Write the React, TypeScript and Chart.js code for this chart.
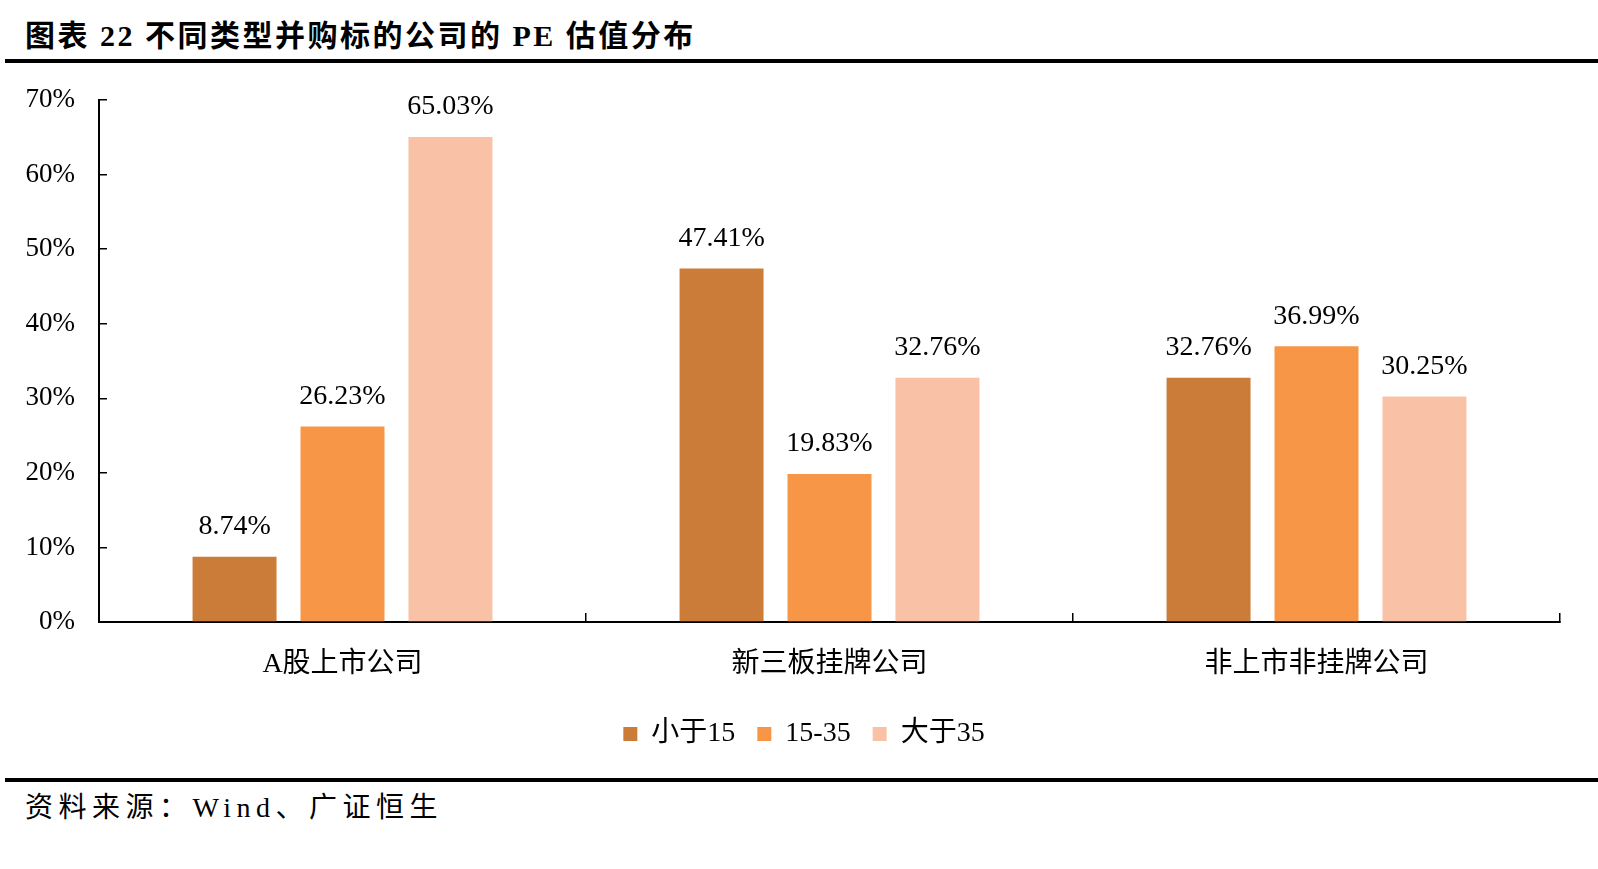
import React, { useEffect, useRef } from 'react';
import { Chart, registerables } from 'chart.js';

Chart.register(...registerables);

const categories = ['A股上市公司', '新三板挂牌公司', '非上市非挂牌公司'];
const seriesNames = ['小于15', '15-35', '大于35'];
const seriesLessThan15 = [8.74, 47.41, 32.76];
const series15to35 = [26.23, 19.83, 36.99];
const seriesMoreThan35 = [65.03, 32.76, 30.25];
const seriesColors = ['#CC7C39', '#F79646', '#F9C1A5'];
const yMin = 0;
const yMax = 70;
const yStep = 10;

const FONT = '"Liberation Serif", "Noto Sans CJK SC", serif';

const valueLabelPlugin = {
  id: 'valueLabels',
  afterDatasetsDraw(chart: any) {
    const ctx = chart.ctx;
    ctx.save();
    ctx.font = `28px ${FONT}`;
    ctx.fillStyle = '#000';
    ctx.textAlign = 'center';
    ctx.textBaseline = 'middle';
    chart.data.datasets.forEach((ds: any, di: number) => {
      const meta = chart.getDatasetMeta(di);
      meta.data.forEach((bar: any, i: number) => {
        const v = ds.data[i];
        ctx.fillText(v.toFixed(2) + '%', bar.x, bar.y - 30);
      });
    });
    ctx.restore();
  },
};

const legendShiftPlugin = {
  id: 'legendShift',
  afterLayout(chart: any) {
    if (chart.legend) {
      chart.legend.left += 24;
      chart.legend.right += 24;
    }
  },
};

export default function App() {
  const canvasRef = useRef<HTMLCanvasElement | null>(null);

  useEffect(() => {
    if (!canvasRef.current) return;
    const datasets = [seriesLessThan15, series15to35, seriesMoreThan35].map((d, i) => ({
      label: seriesNames[i],
      data: d,
      backgroundColor: seriesColors[i],
      borderWidth: 0,
      categoryPercentage: 0.665,
      barPercentage: 0.778,
    }));
    const chart = new Chart(canvasRef.current, {
      type: 'bar',
      data: { labels: categories, datasets },
      plugins: [valueLabelPlugin, legendShiftPlugin],
      options: {
        animation: false,
        responsive: false,
        maintainAspectRatio: false,
        layout: { padding: { top: 30, left: 0, right: 38, bottom: 2 } },
        plugins: {
          tooltip: { enabled: false },
          legend: {
            position: 'bottom',
            labels: {
              color: '#000',
              font: { family: FONT, size: 28 },
              boxWidth: 14,
              boxHeight: 14,
              padding: 22,
            },
          },
        },
        scales: {
          x: {
            afterFit: (scale: any) => {
              scale.height = 76;
              scale.paddingLeft = 0;
              scale.paddingRight = 0;
            },
            grid: {
              drawOnChartArea: false,
              drawTicks: true,
              tickLength: -9,
              color: '#000',
              lineWidth: 1.5,
            },
            border: { color: '#000', width: 2 },
            ticks: {
              color: '#000',
              font: { family: FONT, size: 28 },
              padding: 35,
              maxRotation: 0,
            },
          },
          y: {
            min: yMin,
            max: yMax,
            afterFit: (scale: any) => {
              scale.width = 99;
              scale.paddingTop = 0;
              scale.paddingBottom = 0;
            },
            grid: {
              drawOnChartArea: false,
              drawTicks: true,
              tickLength: -8,
              color: '#000',
              lineWidth: 1.5,
            },
            border: { color: '#000', width: 2 },
            ticks: {
              stepSize: yStep,
              color: '#000',
              font: { family: FONT, size: 27 },
              padding: 32,
              callback: (v: any) => v + '%',
            },
          },
        },
      },
    });
    return () => chart.destroy();
  }, []);

  return (
    <div
      style={{
        position: 'fixed',
        left: 0,
        top: 0,
        width: 1598,
        height: 869,
        background: '#fff',
        overflow: 'hidden',
      }}
    >
      <div
        style={{
          position: 'absolute',
          left: 25,
          top: 16,
          height: 40,
          lineHeight: '40px',
          fontFamily: FONT,
          fontWeight: 'bold',
          fontSize: 30,
          letterSpacing: '2.5px',
          color: '#000',
          whiteSpace: 'nowrap',
        }}
      >
        图表 22 不同类型并购标的公司的 PE 估值分布
      </div>
      <div style={{ position: 'absolute', left: 5, right: 0, top: 59, height: 4, background: '#000' }} />
      <div style={{ position: 'absolute', left: 0, top: 70, width: 1598, height: 690 }}>
        <canvas ref={canvasRef} width={1598} height={690} style={{ width: 1598, height: 690, display: 'block' }} />
      </div>
      <div style={{ position: 'absolute', left: 5, right: 0, top: 778, height: 4, background: '#000' }} />
      <div
        style={{
          position: 'absolute',
          left: 25,
          top: 788,
          height: 40,
          lineHeight: '40px',
          fontFamily: FONT,
          fontSize: 28,
          letterSpacing: '5.5px',
          color: '#000',
          whiteSpace: 'nowrap',
        }}
      >
        资料来源：Wind、广证恒生
      </div>
    </div>
  );
}
